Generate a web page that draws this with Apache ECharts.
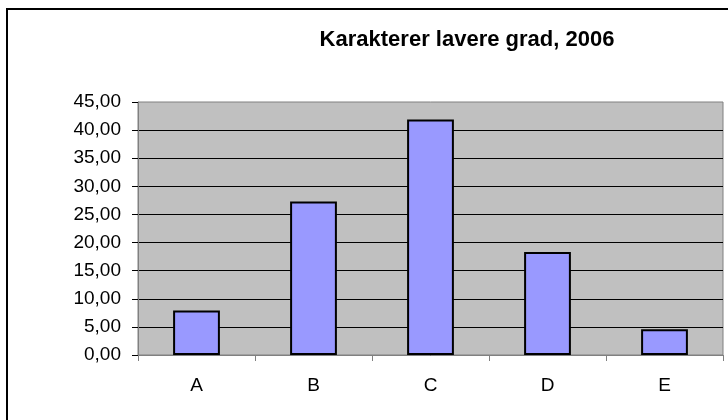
<!DOCTYPE html>
<html lang="no">
<head>
    <meta charset="UTF-8">
    <title>Karakterer lavere grad, 2006</title>
    <script src="https://cdn.jsdelivr.net/npm/echarts@6/dist/echarts.min.js"></script>
    <style>
        html, body { margin: 0; padding: 0; background: #fff; }
        #main { width: 728px; height: 420px; }
    </style>
</head>
<body>
<div id="main"></div>
<script type="text/javascript">
    var grades = ['A', 'B', 'C', 'D', 'E'];
    var shares = [7.9, 27.3, 41.9, 18.3, 4.6];
    var yTicks = [0, 5, 10, 15, 20, 25, 30, 35, 40, 45];

    var myChart = echarts.init(document.getElementById('main'));
    var option = {
        animation: false,
        textStyle: { fontFamily: 'Liberation Sans, Arial, sans-serif' },
        title: {
            text: 'Karakterer lavere grad, 2006',
            left: 462,
            top: 24,
            textAlign: 'center',
            textStyle: { fontSize: 22, fontWeight: 'bold', color: '#000' }
        },
        // ramme rundt hele diagrammet
        graphic: [{
            type: 'rect',
            shape: { x: 7, y: 9, width: 800, height: 500 },
            style: { fill: 'none', stroke: '#000', lineWidth: 2 },
            silent: true
        }],
        grid: {
            left: 138,
            top: 102,
            width: 585,
            height: 253,
            show: true,
            backgroundColor: '#C0C0C0',
            borderColor: '#808080',
            borderWidth: 1
        },
        xAxis: {
            type: 'category',
            data: grades,
            axisLine: { lineStyle: { color: '#808080', width: 1 } },
            axisTick: { show: true, length: 6, inside: false, lineStyle: { color: '#808080' } },
            axisLabel: { color: '#000', fontSize: 19, margin: 21 },
            splitLine: { show: false }
        },
        yAxis: {
            type: 'value',
            min: yTicks[0],
            max: yTicks[yTicks.length - 1],
            interval: 5,
            axisLine: { show: true, lineStyle: { color: '#808080' } },
            axisTick: { show: true, length: 6, lineStyle: { color: '#000' } },
            axisLabel: {
                color: '#000',
                fontSize: 19,
                margin: 17,
                formatter: function (v) { return v.toFixed(2).replace('.', ','); }
            },
            splitLine: {
                show: true,
                showMaxLine: false,
                lineStyle: { color: '#000', width: 1 }
            }
        },
        series: [{
            type: 'bar',
            data: shares,
            barWidth: '40%',
            itemStyle: {
                color: '#9999FF',
                borderColor: '#000',
                borderWidth: 2
            }
        }]
    };
    myChart.setOption(option);
</script>
</body>
</html>
